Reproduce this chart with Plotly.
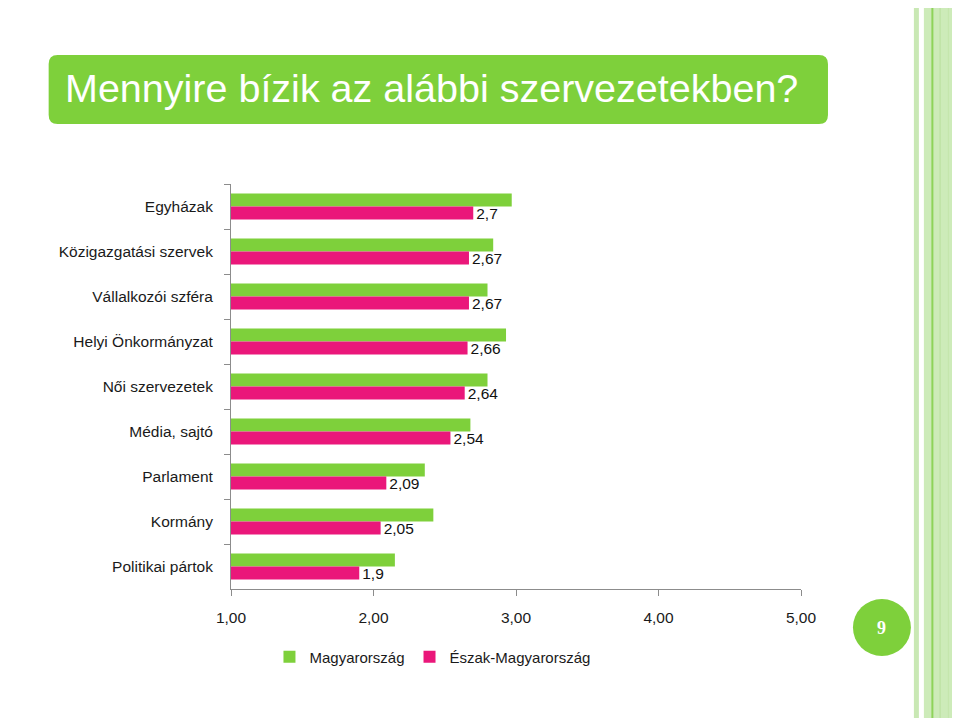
import plotly.graph_objects as go

categories = ["Egyházak", "Közigazgatási szervek", "Vállalkozói szféra", "Helyi Önkormányzat",
              "Női szervezetek", "Média, sajtó", "Parlament", "Kormány", "Politikai pártok"]
magyarorszag = [2.97, 2.84, 2.80, 2.93, 2.80, 2.68, 2.36, 2.42, 2.15]
eszak = [2.70, 2.67, 2.67, 2.66, 2.64, 2.54, 2.09, 2.05, 1.90]
x_ticks = [1, 2, 3, 4, 5]
x_tick_labels = ["1,00", "2,00", "3,00", "4,00", "5,00"]

GREEN = "#7ED03B"
PINK = "#EA177A"
W, H = 960, 720
OFF = 8  # page body margin of the html page
# plot area in page pixels
PL, PR, PT, PB = 230.5, 801, 184, 589
L, R, T, B = PL - OFF, PR - OFF, PT - OFF, PB - OFF


def px(x):
    """page pixel x -> paper x"""
    return (x - OFF - L) / (R - L)


def py(y):
    """page pixel y -> paper y"""
    return (B - (y - OFF)) / (B - T)


FONT = "Liberation Sans, Arial, sans-serif"


def fmt(v):
    s = f"{v:.2f}".rstrip("0").rstrip(".")
    return s.replace(".", ",")


fig = go.Figure()
fig.add_trace(go.Bar(y=categories, x=magyarorszag, orientation="h", name="Magyarország",
                     marker=dict(color=GREEN, line=dict(width=0)), base=0))
fig.add_trace(go.Bar(y=categories, x=eszak, orientation="h", name="Észak-Magyarország",
                     marker=dict(color=PINK, line=dict(width=0)), base=0,
                     text=[fmt(v) for v in eszak],
                     textposition="outside", cliponaxis=False, constraintext="none",
                     textfont=dict(family=FONT, size=15.5, color="#111111")))

shapes = []
# title banner (rounded rectangle)
bx0, bx1, by0, by1, r = 48, 828, 55, 124, 9
X, Y = px, py
path = (f"M {X(bx0 + r)} {Y(by0)} L {X(bx1 - r)} {Y(by0)} Q {X(bx1)} {Y(by0)} {X(bx1)} {Y(by0 + r)} "
        f"L {X(bx1)} {Y(by1 - r)} Q {X(bx1)} {Y(by1)} {X(bx1 - r)} {Y(by1)} "
        f"L {X(bx0 + r)} {Y(by1)} Q {X(bx0)} {Y(by1)} {X(bx0)} {Y(by1 - r)} "
        f"L {X(bx0)} {Y(by0 + r)} Q {X(bx0)} {Y(by0)} {X(bx0 + r)} {Y(by0)} Z")
shapes.append(dict(type="path", path=path, xref="paper", yref="paper",
                   fillcolor=GREEN, line=dict(width=0), layer="below"))
# decorative stripes at right
for (a, b, c) in [(914, 919, "#C9E8B4"), (924, 960, "#CDEBB9"), (931.5, 933.5, "#8ED35A"),
                  (939.5, 941, "#BFE3A6"), (948, 949, "#C3E5AB")]:
    shapes.append(dict(type="rect", xref="paper", yref="paper", x0=px(a), x1=px(b),
                       y0=py(718), y1=py(0), fillcolor=c, line=dict(width=0), layer="below"))
# page number circle
shapes.append(dict(type="circle", xref="paper", yref="paper", x0=px(853), x1=px(911),
                   y0=py(656), y1=py(599), fillcolor=GREEN, line=dict(width=0)))

annotations = [
    dict(text="Mennyire bízik az alábbi szervezetekben?", xref="paper", yref="paper",
         x=px(62), y=py(88), xanchor="left", yanchor="middle", showarrow=False,
         font=dict(family=FONT, size=39.5, color="white")),
    dict(text="<b>9</b>", xref="paper", yref="paper", x=px(882), y=py(628),
         xanchor="center", yanchor="middle", showarrow=False,
         font=dict(family="Liberation Serif, Times New Roman, serif", size=18, color="white")),
]

fig.update_layout(
    width=W, height=H,
    margin=dict(l=L, r=W - R, t=T, b=H - B, pad=0),
    paper_bgcolor="white", plot_bgcolor="white",
    barmode="group", bargap=0.42, bargroupgap=0,
    separators=",.",
    font=dict(family=FONT, size=15.5, color="#1a1a1a"),
    showlegend=True,
    legend=dict(orientation="h", x=px(269), y=py(657), xanchor="left", yanchor="middle",
                font=dict(family=FONT, size=15, color="#1a1a1a"), itemwidth=30,
                traceorder="normal", bgcolor="rgba(0,0,0,0)"),
    shapes=shapes, annotations=annotations,
    xaxis=dict(range=[1, 5], tickvals=x_ticks, ticktext=x_tick_labels, showgrid=False,
               zeroline=False, showline=True, linecolor="#8C8C8C", linewidth=1,
               ticks="outside", ticklen=6, tickcolor="#8C8C8C", ticklabelstandoff=8,
               tickfont=dict(family=FONT, size=15.5, color="#1a1a1a"), fixedrange=True),
    yaxis=dict(autorange="reversed", showgrid=False, zeroline=False, showline=True,
               linecolor="#8C8C8C", linewidth=1, ticks="outside", ticklen=6,
               tickcolor="#8C8C8C", tickson="boundaries", ticklabelstandoff=14,
               tickfont=dict(family=FONT, size=15.5, color="#1a1a1a")),
)

fig.write_html("out.html")
